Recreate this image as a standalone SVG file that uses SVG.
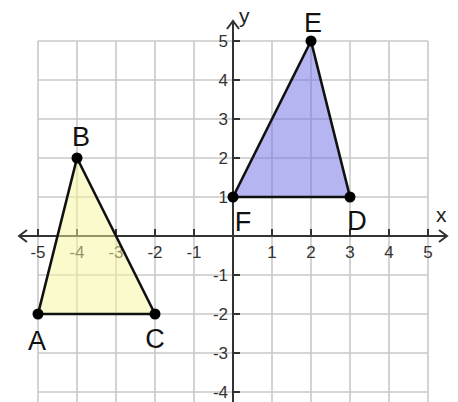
<svg xmlns="http://www.w3.org/2000/svg" width="458" height="402" viewBox="0 0 458 402">
<style>
.grid line{stroke:#c9c9c9;stroke-width:1.6}
.tick{font-family:"Liberation Sans",Arial,sans-serif;font-size:17px;fill:#333}
.axis{stroke:#333;stroke-width:2;fill:none}
.tri{stroke:#111;stroke-width:2.6;stroke-linejoin:round}
.pt{fill:#000}
.vlab{font-family:"Liberation Sans",Arial,sans-serif;font-size:27px;fill:#111;text-anchor:middle}
.alab{font-family:"Liberation Sans",Arial,sans-serif;font-size:21px;fill:#222}
</style>
<rect width="458" height="402" fill="#fff"/>
<g id="grid" class="grid">
<line x1="38" y1="41" x2="38" y2="402"/>
<line x1="77" y1="41" x2="77" y2="402"/>
<line x1="116" y1="41" x2="116" y2="402"/>
<line x1="155" y1="41" x2="155" y2="402"/>
<line x1="194" y1="41" x2="194" y2="402"/>
<line x1="272" y1="41" x2="272" y2="402"/>
<line x1="311" y1="41" x2="311" y2="402"/>
<line x1="350" y1="41" x2="350" y2="402"/>
<line x1="389" y1="41" x2="389" y2="402"/>
<line x1="428" y1="41" x2="428" y2="402"/>
<line x1="38" y1="41" x2="428" y2="41"/>
<line x1="38" y1="80" x2="428" y2="80"/>
<line x1="38" y1="119" x2="428" y2="119"/>
<line x1="38" y1="158" x2="428" y2="158"/>
<line x1="38" y1="197" x2="428" y2="197"/>
<line x1="38" y1="275" x2="428" y2="275"/>
<line x1="38" y1="314" x2="428" y2="314"/>
<line x1="38" y1="353" x2="428" y2="353"/>
<line x1="38" y1="392" x2="428" y2="392"/>
</g>
<g id="tick-labels" class="tick">
<g text-anchor="middle">
<text x="38" y="258">-5</text>
<text x="77" y="258">-4</text>
<text x="116" y="258">-3</text>
<text x="155" y="258">-2</text>
<text x="194" y="258">-1</text>
<text x="272" y="258">1</text>
<text x="311" y="258">2</text>
<text x="350" y="258">3</text>
<text x="389" y="258">4</text>
<text x="428" y="258">5</text>
</g>
<g text-anchor="end">
<text x="228" y="47">5</text>
<text x="228" y="86">4</text>
<text x="228" y="125">3</text>
<text x="228" y="164">2</text>
<text x="228" y="203">1</text>
<text x="228" y="281">-1</text>
<text x="228" y="320">-2</text>
<text x="228" y="359">-3</text>
<text x="228" y="398">-4</text>
</g>
</g>
<g id="connectors">
<g id="axes" class="axis">
<line x1="19" y1="236" x2="447" y2="236"/>
<polyline points="27,230 19,236 27,242"/>
<polyline points="439,230 447,236 439,242"/>
<line x1="233" y1="21" x2="233" y2="402"/>
<polyline points="227,29 233,21 239,29"/>
<path d="M38 236V229M77 236V229M116 236V229M155 236V229M194 236V229M272 236V229M311 236V229M350 236V229M389 236V229M428 236V229"/>
<path d="M233 41H240M233 80H240M233 119H240M233 158H240M233 197H240M233 275H240M233 314H240M233 353H240M233 392H240"/>
</g>
</g>
<g id="triangle-ABC">
<polygon class="tri" points="38,314 77,158 155,314" fill="#f5f59a" fill-opacity="0.5"/>
</g>
<g id="triangle-DEF">
<polygon class="tri" points="350,197 311,41 233,197" fill="#6b6be6" fill-opacity="0.5"/>
</g>
<g id="point-A"><circle class="pt" cx="38" cy="314" r="5.5"/><text class="vlab" x="37" y="350">A</text></g>
<g id="point-B"><circle class="pt" cx="77" cy="158" r="5.5"/><text class="vlab" x="81" y="146">B</text></g>
<g id="point-C"><circle class="pt" cx="155" cy="314" r="5.5"/><text class="vlab" x="155" y="348">C</text></g>
<g id="point-D"><circle class="pt" cx="350" cy="197" r="5.5"/><text class="vlab" x="357" y="230">D</text></g>
<g id="point-E"><circle class="pt" cx="311" cy="41" r="5.5"/><text class="vlab" x="313" y="32">E</text></g>
<g id="point-F"><circle class="pt" cx="233" cy="197" r="5.5"/><text class="vlab" x="243" y="231">F</text></g>
<text class="alab" x="436" y="222">x</text>
<text class="alab" x="239" y="23">y</text>
</svg>
